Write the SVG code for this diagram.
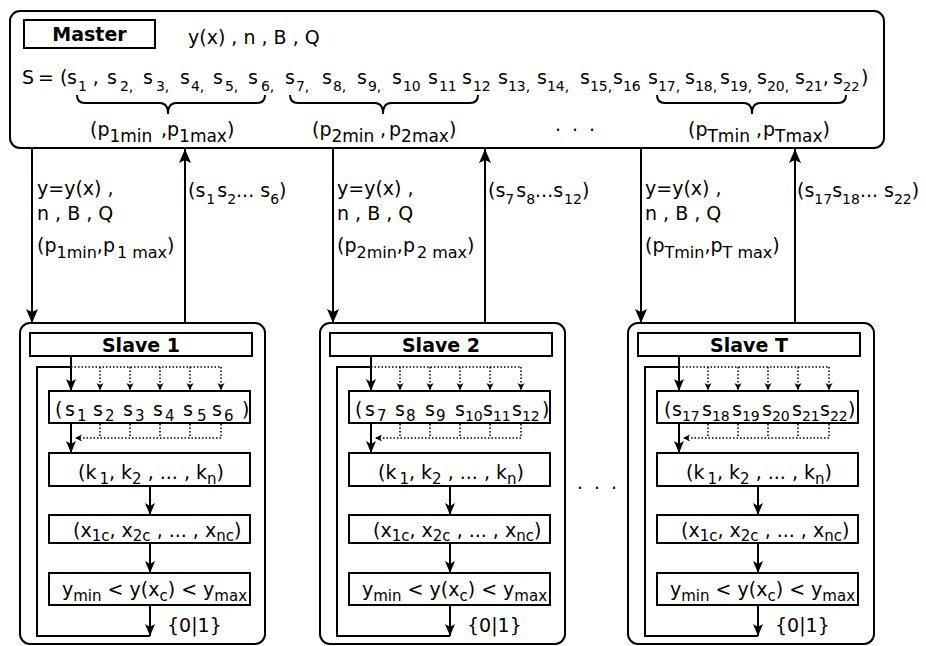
<svg xmlns="http://www.w3.org/2000/svg" width="926" height="646" viewBox="0 0 926 646">
<style>
.bx{fill:none;stroke:#000;stroke-width:2}
.ln{fill:none;stroke:#000;stroke-width:2}
.dt{fill:none;stroke:#000;stroke-width:1.5;stroke-dasharray:1.5,2}
text{font-family:"DejaVu Sans","Noto Sans",sans-serif;font-size:19px;fill:#000}
.sub{font-size:15px}
.s13{font-size:13px}
.s14{font-size:14px}
.s16{font-size:16px}
.s17{font-size:17px}
.b{font-weight:bold}
</style>
<defs>
<marker id="big" markerUnits="userSpaceOnUse" markerWidth="14" markerHeight="12" refX="14" refY="6" orient="auto"><path d="M0,0 L14,6 L0,12 L3,6 z" fill="#000"/></marker>
<marker id="ah" markerUnits="userSpaceOnUse" markerWidth="12" markerHeight="10" refX="12" refY="5" orient="auto"><path d="M0,0 L12,5 L0,10 L3,5 z" fill="#000"/></marker>
<marker id="sa" markerUnits="userSpaceOnUse" markerWidth="8" markerHeight="8" refX="7" refY="4" orient="auto"><path d="M0,0.5 L7,4 L0,7.5 L2,4 z" fill="#000"/></marker>
</defs>
<rect width="926" height="646" fill="#fff"/>

<g id="master">
<rect class="bx" x="10" y="11" width="874" height="137" rx="10"/>
<rect class="bx" x="24" y="20" width="131" height="28"/>
<text class="b" x="89.5" y="41" text-anchor="middle">Master</text>
<text x="188" y="44">y(x) , n , B , Q</text>
<text>
<tspan x="22" y="84">S</tspan><tspan x="38" y="84">=</tspan><tspan x="60" y="84">(</tspan>
<tspan x="67" y="84">s</tspan><tspan class="s14" y="91" dx="1">1</tspan><tspan y="84"> ,</tspan>
<tspan x="107" y="84">s</tspan><tspan class="s14" y="91" dx="3">2,</tspan>
<tspan x="143" y="84">s</tspan><tspan class="s14" y="91" dx="3">3,</tspan>
<tspan x="180" y="84">s</tspan><tspan class="s14" y="91" dx="1">4,</tspan>
<tspan x="213" y="84">s</tspan><tspan class="s14" y="91" dx="2">5,</tspan>
<tspan x="248" y="84">s</tspan><tspan class="s14" y="91" dx="3">6,</tspan>
<tspan x="285" y="84">s</tspan><tspan class="s14" y="91" dx="1">7,</tspan>
<tspan x="322" y="84">s</tspan><tspan class="s14" y="91" dx="1">8,</tspan>
<tspan x="357" y="84">s</tspan><tspan class="s14" y="91" dx="1">9,</tspan>
<tspan x="392" y="84">s</tspan><tspan class="s14" y="91" dx="1">10</tspan>
<tspan x="428" y="84">s</tspan><tspan class="s14" y="91" dx="1">11</tspan>
<tspan x="462" y="84">s</tspan><tspan class="s14" y="91" dx="1">12</tspan>
<tspan x="498" y="84">s</tspan><tspan class="s14" y="91">13,</tspan>
<tspan x="537" y="84">s</tspan><tspan class="s14" y="91">14,</tspan>
<tspan x="580" y="84">s</tspan><tspan class="s14" y="91">15,</tspan>
<tspan x="613" y="84">s</tspan><tspan class="s14" y="91">16</tspan>
<tspan x="648" y="84">s</tspan><tspan class="s14" y="91">17,</tspan>
<tspan x="685" y="84">s</tspan><tspan class="s14" y="91">18,</tspan>
<tspan x="720" y="84">s</tspan><tspan class="s14" y="91">19,</tspan>
<tspan x="757" y="84">s</tspan><tspan class="s14" y="91">20,</tspan>
<tspan x="795" y="84">s</tspan><tspan class="s14" y="91">21</tspan><tspan y="84">,</tspan>
<tspan x="833" y="84">s</tspan><tspan class="s13" y="91">22</tspan>
<tspan x="861" y="84">)</tspan>
</text>
<path class="ln" d="M77,95 Q77,103 85,103 H160 Q168,103 168,114 Q168,103 176,103 H257 Q265,103 265,95"/>
<path class="ln" d="M290,95 Q290,103 298,103 H375 Q383,103 383,114 Q383,103 391,103 H470 Q478,103 478,95"/>
<path class="ln" d="M657,95 Q657,103 665,103 H744 Q752,103 752,114 Q752,103 760,103 H838 Q846,103 846,95"/>
<text><tspan x="90" y="136">(p</tspan><tspan class="s17" y="142">1min</tspan><tspan x="161" y="136">,</tspan><tspan x="167" y="136">p</tspan><tspan class="s17" y="142">1max</tspan><tspan y="136">)</tspan></text>
<text><tspan x="312" y="136">(p</tspan><tspan class="s17" y="142">2min</tspan><tspan x="380" y="136">,</tspan><tspan x="389" y="136">p</tspan><tspan class="s17" y="142">2max</tspan><tspan y="136">)</tspan></text>
<text><tspan x="688" y="136">(p</tspan><tspan class="s17" y="142">Tmin</tspan><tspan x="756" y="136">,</tspan><tspan x="763" y="136">p</tspan><tspan class="s17" y="142">Tmax</tspan><tspan y="136">)</tspan></text>
<text><tspan x="555" y="131">.</tspan><tspan x="572" y="131">.</tspan><tspan x="589" y="131">.</tspan></text>
</g>

<g id="connectors">
<path class="ln" d="M32,148 V323" marker-end="url(#big)"/>
<path class="ln" d="M185,323 V149" marker-end="url(#big)"/>
<path class="ln" d="M333,148 V323" marker-end="url(#big)"/>
<path class="ln" d="M485,323 V149" marker-end="url(#big)"/>
<path class="ln" d="M641,148 V323" marker-end="url(#big)"/>
<path class="ln" d="M795,323 V149" marker-end="url(#big)"/>
<g id="labels-1">
<text x="37" y="195">y=y(x) ,</text>
<text x="37" y="220">n , B , Q</text>
<text><tspan x="37" y="252">(p</tspan><tspan class="s16" y="258">1min</tspan><tspan y="252">,p</tspan><tspan class="s16" y="258" dx="2">1 max</tspan><tspan y="252">)</tspan></text>
<text font-size="18"><tspan x="188" y="197">(s</tspan><tspan class="s14" y="204" dx="1">1</tspan><tspan y="197" dx="2">s</tspan><tspan class="s14" y="204">2</tspan><tspan y="197">... s</tspan><tspan class="s14" y="204">6</tspan><tspan y="197">)</tspan></text>
</g>
<g id="labels-2">
<text x="337" y="195">y=y(x) ,</text>
<text x="337" y="220">n , B , Q</text>
<text><tspan x="337" y="252">(p</tspan><tspan class="s16" y="258">2min</tspan><tspan y="252">,p</tspan><tspan class="s16" y="258" dx="2">2 max</tspan><tspan y="252">)</tspan></text>
<text font-size="18"><tspan x="488" y="197">(s</tspan><tspan class="s14" y="204">7</tspan><tspan y="197" dx="2">s</tspan><tspan class="s14" y="204">8</tspan><tspan y="197">...s</tspan><tspan class="s14" y="204" dx="1">12</tspan><tspan y="197">)</tspan></text>
</g>
<g id="labels-T">
<text x="645" y="195">y=y(x) ,</text>
<text x="645" y="220">n , B , Q</text>
<text><tspan x="645" y="252">(p</tspan><tspan class="s16" y="258">Tmin</tspan><tspan y="252">,p</tspan><tspan class="s16" y="258">T max</tspan><tspan y="252">)</tspan></text>
<text font-size="18"><tspan x="797" y="197">(s</tspan><tspan class="s14" y="204">17</tspan><tspan y="197">s</tspan><tspan class="s14" y="204">18</tspan><tspan y="197">... s</tspan><tspan class="s14" y="204">22</tspan><tspan y="197">)</tspan></text>
</g>
</g>

<g id="slave1">
<rect class="bx" x="20" y="323" width="245" height="321" rx="10"/>
<rect class="bx" x="30" y="333" width="222" height="23"/>
<text class="b" x="141" y="352" text-anchor="middle" font-size="16">Slave 1</text>
<rect class="bx" x="49" y="391" width="201" height="32"/>
<text><tspan x="55" y="416">(</tspan><tspan x="65" y="416">s</tspan><tspan class="sub" y="421" dx="2">1</tspan><tspan x="93" y="416">s</tspan><tspan class="sub" y="421" dx="2">2</tspan><tspan x="123" y="416">s</tspan><tspan class="sub" y="421" dx="2">3</tspan><tspan x="153" y="416">s</tspan><tspan class="sub" y="421" dx="2">4</tspan><tspan x="183" y="416">s</tspan><tspan class="sub" y="421" dx="4">5</tspan><tspan x="212" y="416">s</tspan><tspan class="sub" y="421" dx="2">6</tspan><tspan x="242" y="416">)</tspan></text>
<rect class="bx" x="49" y="453" width="201" height="33"/>
<text><tspan x="78" y="479">(k</tspan><tspan class="sub" y="484" dx="3">1</tspan><tspan y="479">, k</tspan><tspan class="sub" y="484">2</tspan><tspan y="479"> , ... , k</tspan><tspan class="sub" y="484">n</tspan><tspan y="479">)</tspan></text>
<rect class="bx" x="49" y="515" width="201" height="28"/>
<text><tspan x="73" y="537">(x</tspan><tspan class="sub" y="541">1c</tspan><tspan y="537">, x</tspan><tspan class="sub" y="541">2c</tspan><tspan y="537"> , ... , x</tspan><tspan class="sub" y="541">nc</tspan><tspan y="537">)</tspan></text>
<rect class="bx" x="49" y="573" width="201" height="32"/>
<text><tspan x="62" y="596">y</tspan><tspan class="sub" y="601">min</tspan><tspan y="596"> &lt; y(x</tspan><tspan class="sub" y="601">c</tspan><tspan y="596">) &lt; y</tspan><tspan class="sub" y="601">max</tspan></text>
<text x="167" y="632">{0|1}</text>
<g id="slave1-flow">
<path class="ln" d="M150,636 H37 V367 H71"/>
<path class="ln" d="M71,356 V391" marker-end="url(#ah)"/>
<path class="dt" d="M71,367 H221"/>
<path class="dt" d="M100,367 V390" marker-end="url(#sa)"/>
<path class="dt" d="M130,367 V390" marker-end="url(#sa)"/>
<path class="dt" d="M160,367 V390" marker-end="url(#sa)"/>
<path class="dt" d="M190,367 V390" marker-end="url(#sa)"/>
<path class="dt" d="M221,367 V390" marker-end="url(#sa)"/>
<path class="ln" d="M71,423 V453" marker-end="url(#ah)"/>
<path class="dt" d="M100,424 V438 M130,424 V438 M160,424 V438 M190,424 V438 M221,424 V438"/>
<path class="dt" d="M221,438 H75" marker-end="url(#sa)"/>
<path class="ln" d="M150,486 V515" marker-end="url(#ah)"/>
<path class="ln" d="M150,543 V573" marker-end="url(#ah)"/>
<path class="ln" d="M150,605 V636" marker-end="url(#ah)"/>
</g>
</g>

<g id="slave2" transform="translate(300,0)">
<rect class="bx" x="20" y="323" width="245" height="321" rx="10"/>
<rect class="bx" x="30" y="333" width="222" height="23"/>
<text class="b" x="141" y="352" text-anchor="middle" font-size="16">Slave 2</text>
<rect class="bx" x="49" y="391" width="201" height="32"/>
<text><tspan x="55" y="416">(</tspan><tspan x="65" y="416">s</tspan><tspan class="sub" y="421" dx="2">7</tspan><tspan x="95" y="416">s</tspan><tspan class="sub" y="421" dx="1">8</tspan><tspan x="125" y="416">s</tspan><tspan class="sub" y="421" dx="1">9</tspan><tspan x="155" y="416">s</tspan><tspan class="s14" y="421">10</tspan><tspan x="183" y="416">s</tspan><tspan class="s14" y="421">11</tspan><tspan x="212" y="416">s</tspan><tspan class="s14" y="421">12</tspan><tspan x="242" y="416">)</tspan></text>
<rect class="bx" x="49" y="453" width="201" height="33"/>
<text><tspan x="78" y="479">(k</tspan><tspan class="sub" y="484" dx="3">1</tspan><tspan y="479">, k</tspan><tspan class="sub" y="484">2</tspan><tspan y="479"> , ... , k</tspan><tspan class="sub" y="484">n</tspan><tspan y="479">)</tspan></text>
<rect class="bx" x="49" y="515" width="201" height="28"/>
<text><tspan x="73" y="537">(x</tspan><tspan class="sub" y="541">1c</tspan><tspan y="537">, x</tspan><tspan class="sub" y="541">2c</tspan><tspan y="537"> , ... , x</tspan><tspan class="sub" y="541">nc</tspan><tspan y="537">)</tspan></text>
<rect class="bx" x="49" y="573" width="201" height="32"/>
<text><tspan x="62" y="596">y</tspan><tspan class="sub" y="601">min</tspan><tspan y="596"> &lt; y(x</tspan><tspan class="sub" y="601">c</tspan><tspan y="596">) &lt; y</tspan><tspan class="sub" y="601">max</tspan></text>
<text x="167" y="632">{0|1}</text>
<g id="slave2-flow">
<path class="ln" d="M150,636 H37 V367 H71"/>
<path class="ln" d="M71,356 V391" marker-end="url(#ah)"/>
<path class="dt" d="M71,367 H221"/>
<path class="dt" d="M100,367 V390" marker-end="url(#sa)"/>
<path class="dt" d="M130,367 V390" marker-end="url(#sa)"/>
<path class="dt" d="M160,367 V390" marker-end="url(#sa)"/>
<path class="dt" d="M190,367 V390" marker-end="url(#sa)"/>
<path class="dt" d="M221,367 V390" marker-end="url(#sa)"/>
<path class="ln" d="M71,423 V453" marker-end="url(#ah)"/>
<path class="dt" d="M100,424 V438 M130,424 V438 M160,424 V438 M190,424 V438 M221,424 V438"/>
<path class="dt" d="M221,438 H75" marker-end="url(#sa)"/>
<path class="ln" d="M150,486 V515" marker-end="url(#ah)"/>
<path class="ln" d="M150,543 V573" marker-end="url(#ah)"/>
<path class="ln" d="M150,605 V636" marker-end="url(#ah)"/>
</g>
</g>

<g id="slaveT" transform="translate(608,0)">
<rect class="bx" x="20" y="323" width="246" height="321" rx="10"/>
<rect class="bx" x="30" y="333" width="222" height="23"/>
<text class="b" x="141" y="352" text-anchor="middle" font-size="16">Slave T</text>
<rect class="bx" x="49" y="391" width="201" height="32"/>
<text><tspan x="56" y="416">(</tspan><tspan x="64" y="416">s</tspan><tspan class="s14" y="421">17</tspan><tspan x="94" y="416">s</tspan><tspan class="s14" y="421">18</tspan><tspan x="124" y="416">s</tspan><tspan class="s14" y="421">19</tspan><tspan x="154" y="416">s</tspan><tspan class="s14" y="421">20</tspan><tspan x="184" y="416">s</tspan><tspan class="s14" y="421">21</tspan><tspan x="212" y="416">s</tspan><tspan class="s14" y="421">22</tspan><tspan x="240" y="416">)</tspan></text>
<rect class="bx" x="49" y="453" width="201" height="33"/>
<text><tspan x="78" y="479">(k</tspan><tspan class="sub" y="484" dx="3">1</tspan><tspan y="479">, k</tspan><tspan class="sub" y="484">2</tspan><tspan y="479"> , ... , k</tspan><tspan class="sub" y="484">n</tspan><tspan y="479">)</tspan></text>
<rect class="bx" x="49" y="515" width="201" height="28"/>
<text><tspan x="73" y="537">(x</tspan><tspan class="sub" y="541">1c</tspan><tspan y="537">, x</tspan><tspan class="sub" y="541">2c</tspan><tspan y="537"> , ... , x</tspan><tspan class="sub" y="541">nc</tspan><tspan y="537">)</tspan></text>
<rect class="bx" x="49" y="573" width="201" height="32"/>
<text><tspan x="62" y="596">y</tspan><tspan class="sub" y="601">min</tspan><tspan y="596"> &lt; y(x</tspan><tspan class="sub" y="601">c</tspan><tspan y="596">) &lt; y</tspan><tspan class="sub" y="601">max</tspan></text>
<text x="167" y="632">{0|1}</text>
<g id="slaveT-flow">
<path class="ln" d="M150,636 H37 V367 H71"/>
<path class="ln" d="M71,356 V391" marker-end="url(#ah)"/>
<path class="dt" d="M71,367 H221"/>
<path class="dt" d="M100,367 V390" marker-end="url(#sa)"/>
<path class="dt" d="M130,367 V390" marker-end="url(#sa)"/>
<path class="dt" d="M160,367 V390" marker-end="url(#sa)"/>
<path class="dt" d="M190,367 V390" marker-end="url(#sa)"/>
<path class="dt" d="M221,367 V390" marker-end="url(#sa)"/>
<path class="ln" d="M71,423 V453" marker-end="url(#ah)"/>
<path class="dt" d="M100,424 V438 M130,424 V438 M160,424 V438 M190,424 V438 M221,424 V438"/>
<path class="dt" d="M221,438 H75" marker-end="url(#sa)"/>
<path class="ln" d="M150,486 V515" marker-end="url(#ah)"/>
<path class="ln" d="M150,543 V573" marker-end="url(#ah)"/>
<path class="ln" d="M150,605 V636" marker-end="url(#ah)"/>
</g>
</g>

<text id="slaves-ellipsis"><tspan x="577" y="489">.</tspan><tspan x="594" y="489">.</tspan><tspan x="611" y="489">.</tspan></text>
</svg>
